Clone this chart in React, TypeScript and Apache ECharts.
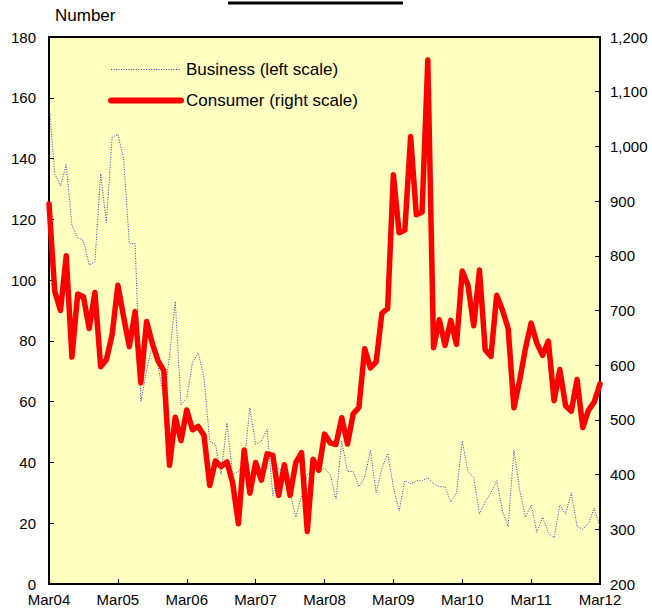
import React, { useEffect, useRef } from "react";
import * as echarts from "echarts";

const years = ["04", "05", "06", "07", "08", "09", "10", "11", "12"];
const monthNames = ["Mar", "Apr", "May", "Jun", "Jul", "Aug", "Sep", "Oct", "Nov", "Dec", "Jan", "Feb"];

// Monthly categories Mar04 .. Mar12
const categories: string[] = [];
for (let y = 0; y < 8; y++) {
  for (let m = 0; m < 12; m++) {
    const yr = m < 10 ? years[y] : years[y + 1];
    categories.push(monthNames[m] + yr);
  }
}
categories.push("Mar12");

// Business (left scale)
const business = [
  158, 135, 131, 138, 118, 114, 113, 105, 106, 135, 119, 147,
  148, 140, 112, 112, 60, 70, 79, 72, 61, 75, 93, 59,
  61, 73, 76, 68, 47, 46, 36, 53, 36, 37, 40, 58,
  46, 47, 51, 29, 38, 37, 30, 22, 29, 36, 38, 37,
  38, 36, 28, 47, 37, 37, 32, 35, 44, 30, 38, 43,
  32, 24, 34, 33, 34, 34, 35, 33, 32, 32, 27, 30,
  47, 37, 35, 23, 27, 30, 34, 24, 19, 44, 31, 22,
  26, 17, 22, 17, 15, 26, 23, 30, 19, 18, 20, 25,
  19,
];

// Consumer (right scale)
const consumer = [
  895, 735, 700, 800, 615, 730, 725, 667, 733, 597, 610, 656,
  746, 688, 634, 698, 568, 680, 640, 608, 590, 417, 505, 462,
  518, 482, 488, 472, 380, 425, 415, 423, 385, 310, 445, 366,
  422, 390, 438, 435, 362, 418, 362, 422, 440, 296, 428, 408,
  474, 458, 455, 504, 456, 511, 523, 630, 595, 606, 695, 704,
  948, 842, 847, 1018, 875, 880, 1158, 632, 683, 636, 682, 638,
  772, 746, 672, 774, 628, 616, 728, 701, 667, 522, 572, 630,
  677, 640, 618, 644, 535, 592, 526, 516, 574, 486, 518, 533,
  566,
];

const leftMin = 0;
const leftMax = 180;
const leftStep = 20;
const rightMin = 200;
const rightMax = 1200;
const rightStep = 100;

const FONT = "'Liberation Sans', Arial, sans-serif";
const BLUE = "#3A3AB4";
const RED = "#FF0000";

export default function App() {
  const ref = useRef<HTMLDivElement>(null);
  useEffect(() => {
    if (!ref.current) return;
    const chart = echarts.init(ref.current, null, { renderer: "svg" });
    const isMarch = (idx: number) => idx % 12 === 0;
    chart.setOption({
      animation: false,
      backgroundColor: "#ffffff",
      textStyle: { fontFamily: FONT },
      grid: {
        left: 49,
        right: 52,
        top: 37,
        bottom: 30,
        show: true,
        backgroundColor: "#FFFFC0",
        borderColor: "#000",
        borderWidth: 2,
        containLabel: false,
      },
      graphic: [
        {
          type: "line",
          shape: { x1: 228, y1: 3, x2: 403, y2: 3 },
          style: { stroke: "#000", lineWidth: 3 },
        },
        {
          type: "text",
          x: 55,
          y: 7,
          style: { text: "Number", font: `17px ${FONT}`, fill: "#000" },
        },
      ],
      legend: {
        orient: "vertical",
        left: 108,
        top: 61,
        padding: 0,
        itemWidth: 70,
        itemHeight: 14,
        itemGap: 14,
        itemTextGap: -3,
        itemStyle: { opacity: 0 },
        textStyle: { fontSize: 17, color: "#000", fontFamily: FONT },
        data: [
          {
            name: "Business (left scale)",
            itemStyle: { opacity: 0 },
            lineStyle: { color: BLUE, width: 1, type: [1, 1.5], opacity: 1 },
          },
          {
            name: "Consumer (right scale)",
            itemStyle: { opacity: 0 },
            lineStyle: { color: RED, width: 6, cap: "round", opacity: 1 },
          },
        ],
      },
      xAxis: {
        type: "category",
        data: categories,
        boundaryGap: false,
        axisLine: { lineStyle: { color: "#000", width: 2 } },
        axisTick: {
          inside: true,
          length: 5,
          interval: (idx: number) => isMarch(idx),
          lineStyle: { color: "#000" },
        },
        axisLabel: {
          interval: (idx: number) => isMarch(idx),
          color: "#000",
          fontSize: 15,
          margin: 8,
          fontFamily: FONT,
        },
        splitLine: { show: false },
      },
      yAxis: [
        {
          type: "value",
          min: leftMin,
          max: leftMax,
          interval: leftStep,
          position: "left",
          axisLine: { show: true, lineStyle: { color: "#000", width: 2 } },
          axisTick: { show: true, inside: true, length: 5, lineStyle: { color: "#000" } },
          axisLabel: { color: "#000", fontSize: 15, margin: 13, fontFamily: FONT },
          splitLine: { show: false },
        },
        {
          type: "value",
          min: rightMin,
          max: rightMax,
          interval: rightStep,
          position: "right",
          axisLine: { show: true, lineStyle: { color: "#000", width: 2 } },
          axisTick: { show: true, inside: true, length: 5, lineStyle: { color: "#000" } },
          axisLabel: {
            color: "#000",
            fontSize: 15,
            margin: 10,
            fontFamily: FONT,
            formatter: (v: number) => v.toLocaleString("en-US"),
          },
          splitLine: { show: false },
        },
      ],
      series: [
        {
          name: "Business (left scale)",
          type: "line",
          yAxisIndex: 0,
          data: business,
          symbol: "none",
          lineStyle: { color: BLUE, width: 1, type: [1, 1.5] },
          itemStyle: { color: BLUE },
          z: 2,
        },
        {
          name: "Consumer (right scale)",
          type: "line",
          yAxisIndex: 1,
          data: consumer,
          symbol: "none",
          lineStyle: { color: RED, width: 5.5, cap: "round", join: "round" },
          itemStyle: { color: RED },
          z: 3,
        },
      ],
    });
    return () => chart.dispose();
  }, []);
  return <div ref={ref} style={{ width: 652, height: 614, position: "absolute", left: 0, top: 0 }} />;
}
